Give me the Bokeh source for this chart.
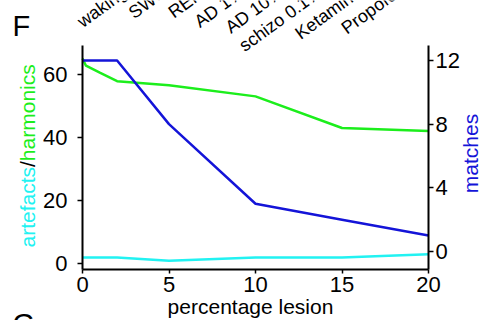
import math
from bokeh.plotting import figure
from bokeh.models import Range1d, LinearAxis, FixedTicker
from bokeh.core.properties import value
from bokeh.embed import file_html
from bokeh.resources import INLINE

# --- data ---------------------------------------------------------------
lesion_h = [0, 0.2, 1, 2, 5, 10, 15, 20]
harmonics = [65, 62.7, 60.5, 57.8, 56.5, 53, 43, 42]

lesion = [0, 2, 5, 10, 15, 20]
artefacts = [2, 2, 1, 2, 2, 3]
matches = [12, 12, 8, 3, 2, 1]

x_ticks = [0, 5, 10, 15, 20]
left_ticks = [0, 20, 40, 60]
right_ticks = [0, 4, 8, 12]

condition_labels = ["waking", "SWS", "REM", "AD 1%", "AD 10%",
                    "schizo 0.1%", "Ketamine", "Propofol"]

# --- styling ------------------------------------------------------------
FONT = "Liberation Sans"
GREEN = "#1cee1c"
BLUE = "#1414d8"
CYAN = "#22f2f2"

W, H = 479, 320
FL, FR, FT, FB = 82, 428, 45, 269   # axes box edges in canvas pixels

x0, x1 = 0, 20
yl0, yl1 = -1.8, 69.1
yr0, yr1 = -1.13, 12.94

# the frame fills the whole canvas; the axes box is placed inside it
sx = (x1 - x0) / (FR - FL)
syl = (yl1 - yl0) / (FB - FT)
syr = (yr1 - yr0) / (FB - FT)

p = figure(width=W, height=H, output_backend="svg", toolbar_location=None,
           x_range=Range1d(x0 - FL * sx, x0 + (W - FL) * sx),
           y_range=Range1d(yl0 - (H - FB) * syl, yl0 + FB * syl),
           x_axis_location=None, y_axis_location=None,
           min_border=0)
p.outline_line_color = None
p.background_fill_color = "white"
p.border_fill_color = "white"
p.xgrid.visible = False
p.ygrid.visible = False
p.extra_y_ranges = {"right": Range1d(yr0 - (H - FB) * syr, yr0 + FB * syr)}


def px_to_data(px, py):
    """Canvas pixel -> (x, left-y) data coordinates."""
    return x0 + (px - FL) * sx, yl0 + (FB - py) * syl


def style_axis(ax, ticks, standoff, tick_out=5):
    ax.ticker = FixedTicker(ticks=ticks)
    ax.axis_line_width = 2
    ax.axis_line_color = "black"
    ax.major_tick_line_width = 1.5
    ax.major_tick_line_color = "black"
    ax.major_tick_in = 0
    ax.major_tick_out = tick_out
    ax.minor_tick_line_color = None
    ax.major_label_text_font = FONT
    ax.major_label_text_font_size = "22px"
    ax.major_label_text_color = "black"
    ax.major_label_standoff = standoff


xaxis = LinearAxis(fixed_location=yl0, bounds=(x0, x1))
style_axis(xaxis, x_ticks, 3, tick_out=4)
p.add_layout(xaxis, "below")

yaxis = LinearAxis(fixed_location=x0, bounds=(yl0, yl1))
style_axis(yaxis, left_ticks, 10)
p.add_layout(yaxis, "left")

right_axis = LinearAxis(y_range_name="right", fixed_location=x1,
                        bounds=(yr0, yr1))
style_axis(right_axis, right_ticks, 2)
p.add_layout(right_axis, "right")

# --- series -------------------------------------------------------------
p.line(lesion_h, harmonics, line_color=GREEN, line_width=2.5)
p.line(lesion, artefacts, line_color=CYAN, line_width=2.5)
p.line(lesion, matches, line_color=BLUE, line_width=2.5, y_range_name="right")

# --- texts --------------------------------------------------------------
MID = 0.3465   # baseline -> middle of the font box, in em


def add_text(texts, pxs, pys, size, color="black", angle=0.0, align="left"):
    """Place texts by their baseline point (canvas pixels)."""
    # shift from the baseline to the middle of the text box, along the
    # text's own 'up' direction
    dx = -math.sin(angle) * MID * size
    dy = -math.cos(angle) * MID * size
    pts = [px_to_data(a + dx, b + dy) for a, b in zip(pxs, pys)]
    xs, ys = zip(*pts)
    p.text(x=list(xs), y=list(ys), text=list(texts), angle=angle,
           text_font=value(FONT), text_font_size=f"{size}px",
           text_color=color, text_align=align, text_baseline="middle")


# x axis title
add_text(["percentage lesion"], [250], [313], 21, align="center")

# left axis title in two colours, reading upwards
size = 21
art_w = 3.835 * size
slash_w = 0.278 * size
y_start = 247
add_text(["artefacts"], [34], [y_start], size, CYAN, math.pi / 2)
add_text(["/"], [34], [y_start - art_w], size, "black", math.pi / 2)
add_text(["harmonics"], [34], [y_start - art_w - slash_w], size, GREEN,
         math.pi / 2)

# right axis title
add_text(["matches"], [477], [153], 21, BLUE, math.pi / 2, align="center")

# panel letters
add_text(["F", "G"], [12, 12], [36, 334], 29)

# rotated condition labels of the panel above
rot = math.radians(36)
n = len(condition_labels)
add_text(condition_labels, [128 + 39 * i for i in range(n)], [-5] * n, 18,
         angle=rot, align="right")

open("out.html", "w").write(file_html(p, INLINE))
